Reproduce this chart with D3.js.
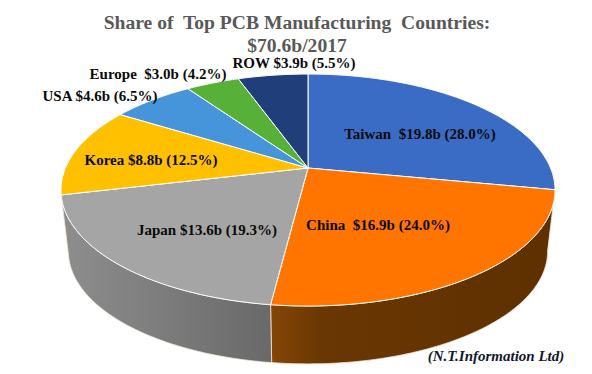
<!DOCTYPE html>
<html>
<head>
<meta charset="utf-8">
<script src="https://cdn.jsdelivr.net/npm/d3@7"></script>
<style>
html,body{margin:0;padding:0;background:#fff;overflow:hidden}
text{font-family:"Liberation Serif",serif;font-weight:bold;white-space:pre}
</style>
</head>
<body>
<div id="chart"></div>
<script>
var countries = ["Taiwan","China","Japan","Korea","USA","Europe","ROW"]
var shares = [28.0,24.0,19.3,12.5,6.5,4.2,5.5]
var labels = ["Taiwan  $19.8b (28.0%)","China  $16.9b (24.0%)","Japan $13.6b (19.3%)","Korea $8.8b (12.5%)","USA $4.6b (6.5%)","Europe  $3.0b (4.2%)","ROW $3.9b (5.5%)"]
var colors = ["#3a6bc5","#ff7500","#a5a5a5","#ffc000","#4694da","#57b038","#1f3e7a"]
var titleLines = ["Share of  Top PCB Manufacturing  Countries:","$70.6b/2017"]
var source = "(N.T.Information Ltd)"

// hand placed, these do not follow the slices
var labelSpots = [[420,139],[378,230],[207,235],[151,165],[100,101],[158,79],[294,68]]

var WIDTH = 592,
	HEIGHT = 374,
	cx = 308,
	cy = 168,
	tilt = .19,      // perspective, near edge looks bigger
	depth = 62,
	shrink = .97     // bottom rim sits a bit inside the top one

var svg = d3.select("#chart")
	.append("svg")
	.attr("width", WIDTH)
	.attr("height", HEIGHT)
	.style("display", "block")

var x = d3.scaleLinear().domain([-1,1]).range([cx - 242.5, cx + 242.5])
var y = d3.scaleLinear().domain([-1,1]).range([cy - 111.8, cy + 111.8])

function project(a, level){
	var ux = Math.sin(a),
		uy = -Math.cos(a),
		w = 1 - tilt * uy
	var px = x(ux / w),
		py = y(uy / w)
	if(level == 1){
		return [cx + (px - cx) * shrink, cy + depth + (py - cy) * shrink]
	}
	return [px, py]
}

function rim(d, level, reverse){
	var n = Math.ceil((d.endAngle - d.startAngle) / .01)
	var pts = d3.range(n + 1).map(function(i){
		return project(d.startAngle + (d.endAngle - d.startAngle) * i / n, level)
	})
	return reverse ? pts.reverse() : pts
}

var pie = d3.pie().sort(null).value(function(d){ return d })
var slices = pie(shares)
var line = d3.line()

// side wall shading
var defs = svg.append("defs")
var wallStops = {
	China: [["0%","#854606"],["18%","#693703"],["100%","#5e3000"]],
	Japan: [["0%","#8e8e8e"],["100%","#696969"]]
}
Object.keys(wallStops).forEach(function(name){
	var grad = defs.append("linearGradient")
		.attr("id", "wall" + name)
	wallStops[name].forEach(function(s){
		grad.append("stop").attr("offset", s[0]).attr("stop-color", s[1])
	})
})

var walls = slices.filter(function(d,i){
	return wallStops[countries[i]]
})
svg.selectAll(".wall")
	.data(walls)
	.enter()
	.append("path")
	.attr("class", "wall")
	.attr("d", function(d){
		return line(rim(d, 0).concat(rim(d, 1, true))) + "Z"
	})
	.attr("fill", function(d){ return "url(#wall" + countries[d.index] + ")" })
	.attr("stroke", "#f6e6d4")
	.attr("stroke-width", .8)

// top face
svg.selectAll(".slice")
	.data(slices)
	.enter()
	.append("path")
	.attr("class", "slice")
	.attr("d", function(d){
		return line([[x(0), y(0)]].concat(rim(d, 0))) + "Z"
	})
	.attr("fill", function(d){ return colors[d.index] })
	.attr("stroke", "#ffffff")
	.attr("stroke-width", 1)
	.attr("stroke-linejoin", "round")

svg.selectAll(".title")
	.data(titleLines)
	.enter()
	.append("text")
	.attr("class", "title")
	.attr("x", 297)
	.attr("y", function(d,i){ return 29 + i * 23 })
	.attr("text-anchor", "middle")
	.attr("font-size", 19.6)
	.attr("fill", "#595959")
	.text(function(d){ return d })

svg.selectAll(".label")
	.data(labels)
	.enter()
	.append("text")
	.attr("class", "label")
	.attr("x", function(d,i){ return labelSpots[i][0] })
	.attr("y", function(d,i){ return labelSpots[i][1] })
	.attr("text-anchor", "middle")
	.attr("font-size", 15)
	.attr("fill", "#0a0a0a")
	.text(function(d){ return d })

svg.append("text")
	.attr("x", 496)
	.attr("y", 361)
	.attr("text-anchor", "middle")
	.attr("font-size", 15)
	.attr("font-style", "italic")
	.attr("fill", "#10182c")
	.text(source)
</script>
</body>
</html>
